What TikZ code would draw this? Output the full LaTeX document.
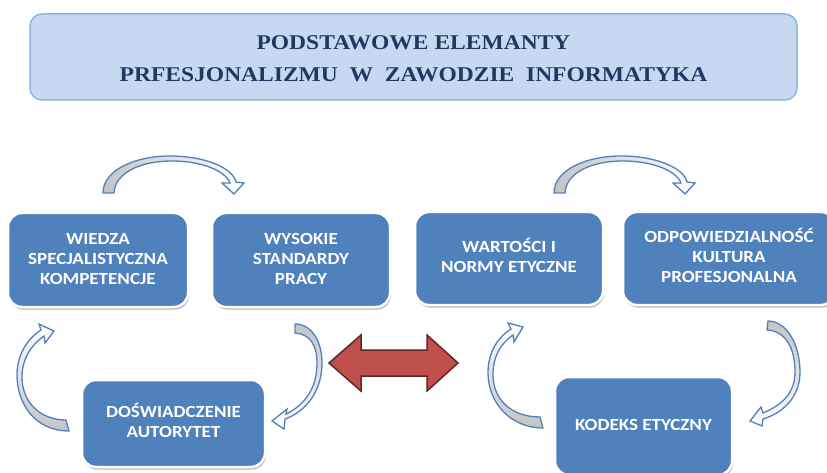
\documentclass[tikz,border=0pt]{standalone}
\usepackage{fontspec}
\usetikzlibrary{shadows}
\newfontfamily\boxfont{Carlito}
\newfontfamily\titlefont{Liberation Serif}
\definecolor{boxblue}{HTML}{4F81BD}
\definecolor{arrblue}{HTML}{4F81BD}
\definecolor{titlefill}{HTML}{C6D9F1}
\definecolor{titledraw}{HTML}{8EB4E3}
\definecolor{titletext}{HTML}{1F3A60}
\definecolor{redfill}{HTML}{C0504D}
\definecolor{reddraw}{HTML}{632523}
\definecolor{bandgray}{HTML}{C4C4C4}
\newcommand\boxtxt[1]{\scalebox{1.12}[1]{\begin{tabular}{@{}c@{}}#1\end{tabular}}}
\newcommand\ttltxt[1]{\scalebox{1.12}[1]{#1}}
\tikzset{
  infobox/.style={rounded corners=14pt, fill=boxblue, draw=white, line width=2.5pt,
    text=white, font=\boxfont\bfseries\fontsize{17}{20}\selectfont, inner sep=0pt,
    drop shadow={shadow xshift=1pt, shadow yshift=-2.5pt, fill=black, opacity=0.28}},
  titlebox/.style={rounded corners=12pt, fill=titlefill, draw=titledraw, line width=1.5pt},
  titleline/.style={anchor=base, text=titletext, font=\titlefont\bfseries\fontsize{21}{24}\selectfont, inner sep=0pt},
  curvarr/.style={draw=arrblue, line width=1.3pt, line join=miter},
  redarrow/.style={fill=redfill, draw=reddraw, line width=1.5pt, line join=miter},
}
\begin{document}
\begin{tikzpicture}[x=1pt,y=-1pt]
\useasboundingbox (0,0) rectangle (827,473);
\clip (0,0) rectangle (827,473);

% title
\node[titlebox, minimum width=767pt, minimum height=86pt] (title) at (413.5,57) {};
\node[titleline] (t1) at (413.5,49.5) {\ttltxt{PODSTAWOWE ELEMANTY}};
\node[titleline] (t2) at (413.5,82) {\ttltxt{PRFESJONALIZMU\ \ W\ \ ZAWODZIE\ \ INFORMATYKA}};

% boxes
\node[infobox, minimum width=180pt, minimum height=94pt] (wiedza) at (98,260) {\boxtxt{WIEDZA\\SPECJALISTYCZNA\\KOMPETENCJE}};
\node[infobox, minimum width=178pt, minimum height=94pt] (wysokie) at (301,260) {\boxtxt{WYSOKIE\\STANDARDY\\PRACY}};
\node[infobox, minimum width=183pt, minimum height=87pt] (dosw) at (173.5,423.5) {\boxtxt{DOŚWIADCZENIE\\AUTORYTET}};
\node[infobox, minimum width=188pt, minimum height=93pt] (wart) at (509,258.5) {\boxtxt{WARTOŚCI I\\NORMY ETYCZNE}};
\node[infobox, minimum width=212pt, minimum height=93pt] (odpow) at (729,258.5) {\boxtxt{ODPOWIEDZIALNOŚĆ\\KULTURA\\PROFESJONALNA}};
\node[infobox, minimum width=177pt, minimum height=98pt] (kodeks) at (643.5,426) {\boxtxt{KODEKS ETYCZNY}};

% top curved arrows (left cluster and right cluster)
\foreach \dx in {0,451}{
\begin{scope}[xshift=\dx]
\draw[curvarr, left color=bandgray, right color=white]
  (103,193) .. controls (103,170) and (135,156) .. (170,156)
  .. controls (205,156) and (233,168) .. (236,182)
  -- (244,183) -- (234,194) -- (222,183) -- (230,183)
  .. controls (225,170) and (200,161) .. (172,161)
  .. controls (140,161) and (115,173) .. (114,193) -- cycle;
\end{scope}}

% left side arrow, left cluster
\draw[curvarr, bottom color=bandgray, top color=white]
  (69,431) .. controls (36,431) and (17,405) .. (17,375)
  .. controls (17,355) and (27,339) .. (41,330)
  -- (39,324) -- (54,331) -- (45,343) -- (44,336)
  .. controls (31,345) and (22,359) .. (22,377)
  .. controls (22,402) and (40,420) .. (66,420) -- cycle;

% right side arrow, left cluster
\draw[curvarr, top color=bandgray, bottom color=white]
  (295,324) .. controls (312,324) and (322,342) .. (322,363)
  .. controls (322,392) and (305,412) .. (285,419)
  -- (284,429) -- (272,421) -- (287,409) -- (286,414)
  .. controls (305,405) and (317,388) .. (317,363)
  .. controls (317,345) and (310,334) .. (295,333) -- cycle;

% left side arrow, right cluster
\draw[curvarr, bottom color=bandgray, top color=white]
  (543,428) .. controls (510,428) and (488,402) .. (488,373)
  .. controls (488,352) and (498,337) .. (511,329)
  -- (508,323) -- (523,327) -- (514,342) -- (513,335)
  .. controls (500,344) and (493,357) .. (493,375)
  .. controls (493,400) and (512,417) .. (540,417) -- cycle;

% right side arrow, right cluster
\draw[curvarr, top color=bandgray, bottom color=white]
  (768,321) .. controls (787,321) and (800,345) .. (800,372)
  .. controls (800,397) and (783,413) .. (763,419)
  -- (762,426) -- (750,421) -- (761,407) -- (763,413)
  .. controls (782,405) and (795,393) .. (795,372)
  .. controls (795,347) and (785,331) .. (767,330) -- cycle;

% central double arrow
\draw[redarrow] (329,363) -- (361,335) -- (361,350) -- (427,350) -- (427,335)
  -- (458,363) -- (427,391) -- (427,376) -- (361,376) -- (361,391) -- cycle;
\end{tikzpicture}
\end{document}
